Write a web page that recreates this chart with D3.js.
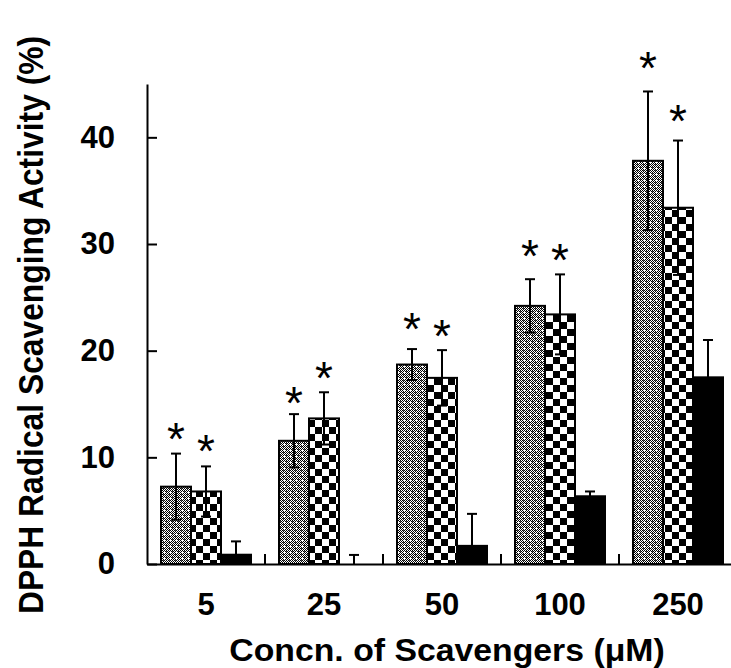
<!DOCTYPE html>
<html>
<head>
<meta charset="utf-8">
<script src="https://cdn.jsdelivr.net/npm/d3@7"></script>
<style>
  html, body { margin: 0; padding: 0; background: #fff; }
  svg { display: block; }
  text { font-family: "Liberation Sans", Arial, sans-serif; }
</style>
</head>
<body>
<svg id="chart" width="731" height="668"></svg>
<script>
// ---- data ----
const categories = ["5", "25", "50", "100", "250"];
const seriesNames = ["dotted", "checker", "solid"];
const dottedValues = [7.25, 11.55, 18.7, 24.2, 37.8];
const dottedErrors = [3.1, 2.5, 1.45, 2.5, 6.5];
const checkerValues = [6.8, 13.65, 17.45, 23.4, 33.4];
const checkerErrors = [2.35, 2.45, 2.6, 3.75, 6.3];
const solidValues = [0.87, 0, 1.7, 6.35, 17.5];
const solidErrors = [1.25, 0.85, 3.0, 0.45, 3.5];
// asterisk levels (data units), null = no asterisk
const dottedStars = [12.7, 16.05, 23.0, 29.8, 47.4];
const checkerStars = [11.56, 18.4, 22.35, 29.4, 42.5];
const solidStars = [null, null, null, null, null];
const yTicks = [0, 10, 20, 30, 40];
const yTitle = "DPPH Radical Scavenging Activity (%)";
const xTitle = "Concn. of Scavengers (\u03BCM)";

const seriesTable = [
  { name: "dotted", values: dottedValues, errors: dottedErrors, stars: dottedStars },
  { name: "checker", values: checkerValues, errors: checkerErrors, stars: checkerStars },
  { name: "solid", values: solidValues, errors: solidErrors, stars: solidStars }
];
const rows = [];
categories.forEach((c, i) => {
  seriesTable.forEach(s => {
    rows.push({ cat: c, series: s.name, value: s.values[i], err: s.errors[i], star: s.stars[i] });
  });
});

// ---- layout ----
const svg = d3.select("#chart");
const x0 = d3.scaleBand().domain(categories).range([147, 737]).paddingInner(0).paddingOuter(0);
const x1 = d3.scaleBand().domain(seriesNames).range([14, 104]);
const y = d3.scaleLinear().domain([0, 45]).range([564, 84]);

// ---- patterns ----
const defs = svg.append("defs");
const pDot = defs.append("pattern").attr("id", "pDot")
  .attr("patternUnits", "userSpaceOnUse").attr("width", 6).attr("height", 6);
pDot.append("rect").attr("width", 6).attr("height", 6).attr("fill", "#fff");
for (let i = 0; i < 6; i++) for (let j = 0; j < 6; j++) {
  if ((i + j) % 2 === 0) pDot.append("rect").attr("x", i).attr("y", j).attr("width", 1).attr("height", 1).attr("fill", "#000");
}
pDot.append("rect").attr("x", 1).attr("y", 2).attr("width", 1).attr("height", 1).attr("fill", "#555");
pDot.append("rect").attr("x", 4).attr("y", 5).attr("width", 1).attr("height", 1).attr("fill", "#555");
pDot.append("rect").attr("x", 2).attr("y", 0).attr("width", 1).attr("height", 1).attr("fill", "#fff");

const pChk = defs.append("pattern").attr("id", "pChk")
  .attr("patternUnits", "userSpaceOnUse").attr("width", 14).attr("height", 14);
pChk.append("rect").attr("width", 14).attr("height", 14).attr("fill", "#fff");
pChk.append("rect").attr("x", 0).attr("y", 0).attr("width", 7).attr("height", 7).attr("fill", "#000");
pChk.append("rect").attr("x", 7).attr("y", 7).attr("width", 7).attr("height", 7).attr("fill", "#000");

const fills = { dotted: "url(#pDot)", checker: "url(#pChk)", solid: "#000" };

// ---- bars ----
svg.append("g").selectAll("rect").data(rows).join("rect")
  .attr("x", d => x0(d.cat) + x1(d.series))
  .attr("y", d => y(d.value))
  .attr("width", x1.bandwidth())
  .attr("height", d => y(0) - y(d.value))
  .attr("fill", d => fills[d.series])
  .attr("stroke", "#000")
  .attr("stroke-width", 2);

// ---- error bars ----
const eg = svg.append("g").attr("stroke", "#000").attr("stroke-width", 2);
rows.forEach(d => {
  const cx = x0(d.cat) + x1(d.series) + x1.bandwidth() / 2;
  const top = y(d.value + d.err);
  const lo = d.value - d.err;
  const bot = y(Math.max(0, lo));
  eg.append("line").attr("x1", cx).attr("x2", cx).attr("y1", top).attr("y2", bot);
  eg.append("line").attr("x1", cx - 5).attr("x2", cx + 5).attr("y1", top).attr("y2", top);
  if (lo > 0) eg.append("line").attr("x1", cx - 5).attr("x2", cx + 5).attr("y1", bot).attr("y2", bot);
});

// ---- asterisks ----
svg.append("g").selectAll("text").data(rows.filter(d => d.star != null)).join("text")
  .attr("x", d => x0(d.cat) + x1(d.series) + x1.bandwidth() / 2)
  .attr("y", d => y(d.star) + 26)
  .attr("text-anchor", "middle")
  .attr("font-size", 46)
  .attr("fill", "#000")
  .text("*");

// ---- axes ----
const yAxis = svg.append("g").attr("transform", "translate(147,0)")
  .call(d3.axisLeft(y).tickValues(yTicks).tickSizeInner(-10).tickSizeOuter(0).tickPadding(32));
yAxis.select(".domain").attr("stroke-width", 2);
yAxis.selectAll(".tick line").attr("stroke-width", 2);
yAxis.selectAll("text").attr("font-size", 31).attr("font-weight", "bold")
  .attr("font-family", "'Liberation Sans', Arial, sans-serif").attr("fill", "#000");

const xAxis = svg.append("g").attr("transform", "translate(0,564)")
  .call(d3.axisBottom(x0).tickSize(0).tickPadding(29));
xAxis.select(".domain").attr("stroke-width", 2);
xAxis.selectAll("text").attr("font-size", 31).attr("font-weight", "bold")
  .attr("font-family", "'Liberation Sans', Arial, sans-serif").attr("fill", "#000");

// group boundary ticks
svg.append("g").selectAll("line").data(categories.slice(1)).join("line")
  .attr("x1", d => x0(d)).attr("x2", d => x0(d))
  .attr("y1", 564).attr("y2", 554)
  .attr("stroke", "#000").attr("stroke-width", 2);

// ---- titles ----
svg.append("text")
  .attr("transform", "translate(43,325) rotate(-90) scale(1,1.08)")
  .attr("text-anchor", "middle")
  .attr("font-size", 31.8).attr("font-weight", "bold")
  .text(yTitle);

svg.append("text")
  .attr("transform", "translate(447,661) scale(1.09,1)")
  .attr("text-anchor", "middle")
  .attr("font-size", 31).attr("font-weight", "bold")
  .text(xTitle);
</script>
</body>
</html>
